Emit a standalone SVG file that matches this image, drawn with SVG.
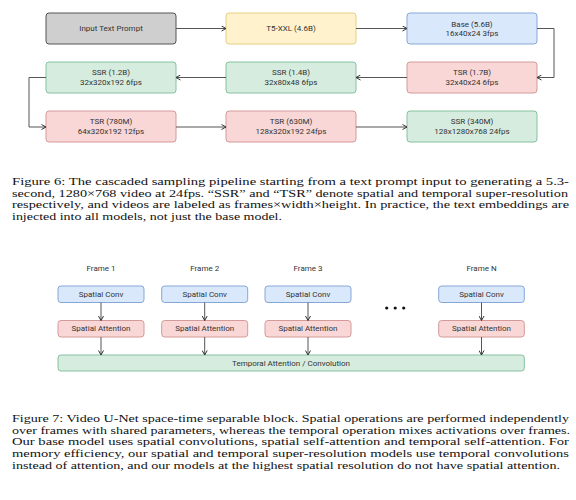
<svg xmlns="http://www.w3.org/2000/svg" width="576" height="500" viewBox="0 0 576 500">
<defs>
<marker id="arr" viewBox="0 0 6 6" refX="5.5" refY="3" markerWidth="6" markerHeight="6" orient="auto" markerUnits="userSpaceOnUse">
<path d="M1,0.5 L5.5,3 L1,5.5" fill="none" stroke="#333" stroke-width="1"/>
</marker>
<style>
.box{stroke-width:1}
.gray{fill:#cfcfcf;stroke:#555}
.yel{fill:#fff2cc;stroke:#e3cf82}
.blue{fill:#dae8fc;stroke:#86a7d6}
.red{fill:#f8d7d6;stroke:#d49a98}
.green{fill:#d5ecdf;stroke:#86c0a0}
.lbl{font-family:Roboto,"Liberation Sans",sans-serif;font-size:8px;fill:#333;text-anchor:middle;dominant-baseline:central}
.con{fill:none;stroke:#555;stroke-width:1;marker-end:url(#arr)}
.cap{font-family:"Liberation Serif","Times New Roman",serif;font-size:10.6px;fill:#111}
</style>
</defs>
<rect width="576" height="500" fill="#fff"/>

<!-- Figure 6 -->
<g id="n-input"><rect class="box gray" x="46" y="13" width="130" height="31" rx="3"/><text class="lbl" x="111" y="28.5">Input Text Prompt</text></g>
<g id="n-t5"><rect class="box yel" x="226" y="13" width="130" height="31" rx="3"/><text class="lbl" x="291" y="28.5">T5-XXL (4.6B)</text></g>
<g id="n-base"><rect class="box blue" x="407" y="13" width="130" height="31" rx="3"/><text class="lbl" x="472" y="24">Base (5.6B)</text><text class="lbl" x="472" y="33">16x40x24 3fps</text></g>
<g id="n-tsr17"><rect class="box red" x="407" y="62" width="130" height="31" rx="3"/><text class="lbl" x="472" y="72.7">TSR (1.7B)</text><text class="lbl" x="472" y="82">32x40x24 6fps</text></g>
<g id="n-ssr14"><rect class="box green" x="226" y="62" width="130" height="31" rx="3"/><text class="lbl" x="291" y="72.7">SSR (1.4B)</text><text class="lbl" x="291" y="82">32x80x48 6fps</text></g>
<g id="n-ssr12"><rect class="box green" x="46" y="62" width="130" height="31" rx="3"/><text class="lbl" x="111" y="72.7">SSR (1.2B)</text><text class="lbl" x="111" y="82">32x320x192 6fps</text></g>
<g id="n-tsr780"><rect class="box red" x="46" y="111" width="130" height="31" rx="3"/><text class="lbl" x="111" y="121.7">TSR (780M)</text><text class="lbl" x="111" y="131">64x320x192 12fps</text></g>
<g id="n-tsr630"><rect class="box red" x="226" y="111" width="130" height="31" rx="3"/><text class="lbl" x="291" y="121.7">TSR (630M)</text><text class="lbl" x="291" y="131">128x320x192 24fps</text></g>
<g id="n-ssr340"><rect class="box green" x="407" y="111" width="130" height="31" rx="3"/><text class="lbl" x="472" y="121.7">SSR (340M)</text><text class="lbl" x="472" y="131">128x1280x768 24fps</text></g>

<g id="connectors-top">
<path class="con" d="M176,28.5 H226"/>
<path class="con" d="M356,28.5 H407"/>
<path class="con" d="M537,28.5 H554 V77.5 H537"/>
<path class="con" d="M407,77.5 H356"/>
<path class="con" d="M226,77.5 H176"/>
<path class="con" d="M46,77.5 H29 V127 H46"/>
<path class="con" d="M176,127 H226"/>
<path class="con" d="M356,127 H407"/>
</g>

<g id="caption6" class="cap">
<text x="12" y="185" textLength="557" lengthAdjust="spacingAndGlyphs">Figure 6:  The cascaded sampling pipeline starting from a text prompt input to generating a 5.3-</text>
<text x="12" y="196.7" textLength="556" lengthAdjust="spacingAndGlyphs">second, 1280×768 video at 24fps. “SSR” and “TSR” denote spatial and temporal super-resolution</text>
<text x="12" y="208.3" textLength="557" lengthAdjust="spacingAndGlyphs">respectively, and videos are labeled as frames×width×height. In practice, the text embeddings are</text>
<text x="12" y="220" textLength="270" lengthAdjust="spacingAndGlyphs">injected into all models, not just the base model.</text>
</g>

<!-- Figure 7 -->
<g id="frame-labels" class="lbl">
<text x="101" y="268.7">Frame 1</text>
<text x="204.7" y="268.7">Frame 2</text>
<text x="308" y="268.7">Frame 3</text>
<text x="481.5" y="268.7">Frame N</text>
</g>
<g id="f1-conv"><rect class="box blue" x="58" y="286" width="86" height="16.5" rx="3"/><text class="lbl" x="101" y="294.3">Spatial Conv</text></g>
<g id="f1-attn"><rect class="box red" x="58" y="320.5" width="86" height="16.5" rx="3"/><text class="lbl" x="101" y="328.8">Spatial Attention</text></g>
<g id="f2-conv"><rect class="box blue" x="161.7" y="286" width="86" height="16.5" rx="3"/><text class="lbl" x="204.7" y="294.3">Spatial Conv</text></g>
<g id="f2-attn"><rect class="box red" x="161.7" y="320.5" width="86" height="16.5" rx="3"/><text class="lbl" x="204.7" y="328.8">Spatial Attention</text></g>
<g id="f3-conv"><rect class="box blue" x="265" y="286" width="86" height="16.5" rx="3"/><text class="lbl" x="308" y="294.3">Spatial Conv</text></g>
<g id="f3-attn"><rect class="box red" x="265" y="320.5" width="86" height="16.5" rx="3"/><text class="lbl" x="308" y="328.8">Spatial Attention</text></g>
<g id="fn-conv"><rect class="box blue" x="438.7" y="286" width="85.6" height="16.5" rx="3"/><text class="lbl" x="481.5" y="294.3">Spatial Conv</text></g>
<g id="fn-attn"><rect class="box red" x="438.7" y="320.5" width="85.6" height="16.5" rx="3"/><text class="lbl" x="481.5" y="328.8">Spatial Attention</text></g>
<g id="temporal"><rect class="box green" x="58" y="355" width="466.3" height="16" rx="3"/><text class="lbl" x="291" y="363.3">Temporal Attention / Convolution</text></g>
<g id="ellipsis" fill="#111">
<circle cx="386.7" cy="308" r="1.6"/><circle cx="395.2" cy="308" r="1.6"/><circle cx="403.7" cy="308" r="1.6"/>
</g>

<g id="connectors-bottom">
<path class="con" d="M101,302.5 V320.5"/>
<path class="con" d="M101,337 V355"/>
<path class="con" d="M204.7,302.5 V320.5"/>
<path class="con" d="M204.7,337 V355"/>
<path class="con" d="M308,302.5 V320.5"/>
<path class="con" d="M308,337 V355"/>
<path class="con" d="M481.5,302.5 V320.5"/>
<path class="con" d="M481.5,337 V355"/>
</g>

<g id="caption7" class="cap">
<text x="12" y="421.7" textLength="557" lengthAdjust="spacingAndGlyphs">Figure 7: Video U-Net space-time separable block. Spatial operations are performed independently</text>
<text x="12" y="433.5" textLength="558" lengthAdjust="spacingAndGlyphs">over frames with shared parameters, whereas the temporal operation mixes activations over frames.</text>
<text x="12" y="445.3" textLength="557" lengthAdjust="spacingAndGlyphs">Our base model uses spatial convolutions, spatial self-attention and temporal self-attention.  For</text>
<text x="12" y="457.2" textLength="557" lengthAdjust="spacingAndGlyphs">memory efficiency, our spatial and temporal super-resolution models use temporal convolutions</text>
<text x="12" y="469" textLength="548" lengthAdjust="spacingAndGlyphs">instead of attention, and our models at the highest spatial resolution do not have spatial attention.</text>
</g>
</svg>
